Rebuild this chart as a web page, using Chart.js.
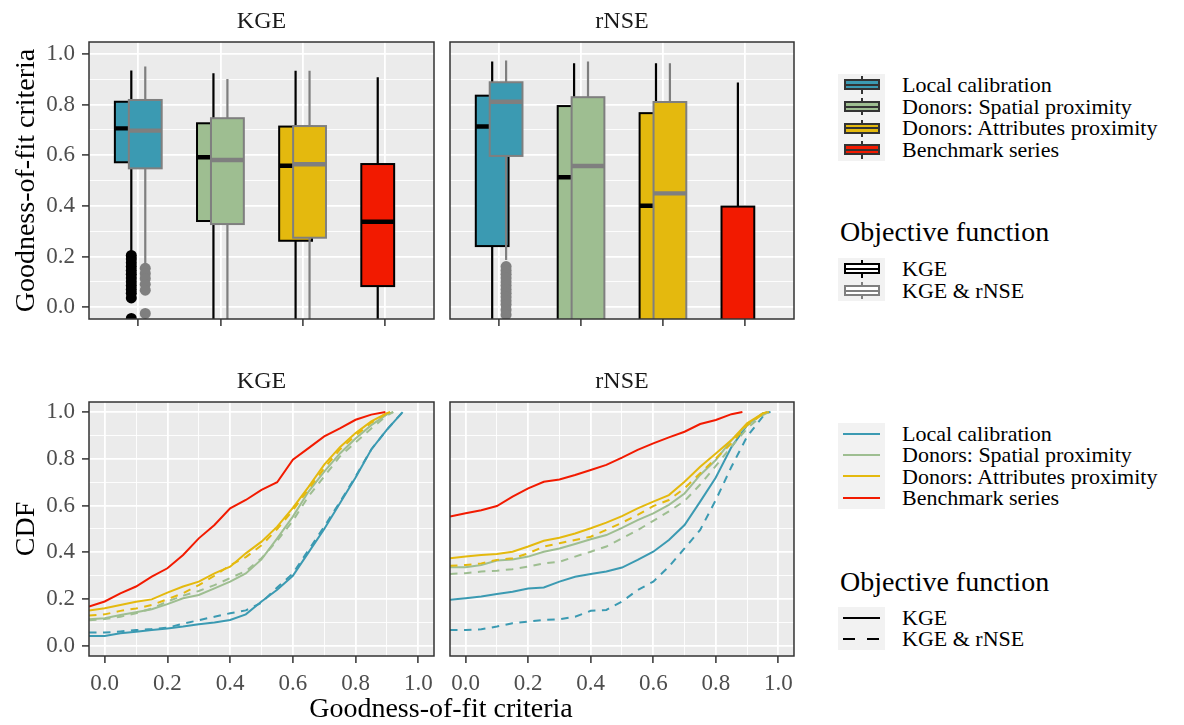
<!DOCTYPE html>
<html>
<head>
<meta charset="utf-8">
<script src="https://cdn.jsdelivr.net/npm/chart.js@4.4.1/dist/chart.umd.min.js"></script>
<style>
  body { margin: 0; background: #fff; }
  #page { position: relative; width: 1184px; height: 725px; overflow: hidden;
          font-family: 'Liberation Serif', 'Times New Roman', serif; color: #000; }
  canvas { position: absolute; }
  .legend { position: absolute; left: 838px; }
  .row { position: relative; }
  .key { position: absolute; left: 0; top: 0; width: 47px; height: 100%; background: #F2F2F2; }
  .lab { position: absolute; left: 64px; top: 0; font-size: 22px; white-space: nowrap; }
  .wh { position: absolute; left: 22.5px; width: 2px; top: 10%; bottom: 10%; }
  .bx { position: absolute; left: 5.5px; width: 36px; top: 25%; height: 50%; box-sizing: border-box; border: 2px solid; }
  .md { position: absolute; left: 5.5px; width: 36px; top: calc(50% - 1px); height: 2px; }
  .ln { position: absolute; left: 5px; width: 37px; top: calc(50% - 1px); height: 2px; }
  .ltitle { position: absolute; left: 840px; font-size: 28px; line-height: 32px; white-space: nowrap; }
  .xtitle { position: absolute; left: 241px; width: 400px; top: 692px; text-align: center;
            font-size: 28px; line-height: 32px; white-space: nowrap; }
</style>
</head>
<body>
<div id="page">
  <canvas id="boxKge" width="440" height="340" style="left:0;top:0"></canvas>
  <canvas id="boxRnse" width="360" height="340" style="left:440px;top:0"></canvas>
  <canvas id="cdfKge" width="440" height="345" style="left:0;top:355px"></canvas>
  <canvas id="cdfRnse" width="360" height="345" style="left:440px;top:355px"></canvas>
  <div class="xtitle">Goodness-of-fit criteria</div>
  <div id="legFill" class="legend" style="top:74px"></div>
  <div class="ltitle" style="top:216px">Objective function</div>
  <div id="legObjBox" class="legend" style="top:258px"></div>
  <div id="legColour" class="legend" style="top:423px"></div>
  <div class="ltitle" style="top:566px">Objective function</div>
  <div id="legObjLine" class="legend" style="top:607px"></div>
</div>
<script>
// ---- categories / series ----
const methods = ['Local calibration', 'Donors: Spatial proximity', 'Donors: Attributes proximity', 'Benchmark series'];
const methodColors = ['#3B9AB2', '#9EBE91', '#E4B90E', '#F21A00'];
const objectives = ['KGE', 'KGE & rNSE'];
const objectiveStroke = ['#000000', '#7F7F7F'];

// boxplot stats per method: [lower whisker, Q1, median, Q3, upper whisker]
const boxKgeByKge  = [[0.21, 0.572, 0.706, 0.811, 0.934], [-0.25, 0.340, 0.592, 0.726, 0.924], [-0.25, 0.262, 0.558, 0.713, 0.933], [-0.25, 0.083, 0.337, 0.565, 0.908]];
const boxKgeByBoth = [[0.165, 0.548, 0.697, 0.818, 0.950], [-0.25, 0.328, 0.581, 0.746, 0.901], [-0.25, 0.274, 0.564, 0.715, 0.933], null];
const boxRnseByKge  = [[-0.5, 0.241, 0.713, 0.835, 0.970], [-1.0, -0.30, 0.513, 0.794, 0.963], [-1.0, -0.40, 0.400, 0.766, 0.963], [-1.0, -0.90, -0.20, 0.397, 0.887]];
const boxRnseByBoth = [[0.186, 0.597, 0.811, 0.888, 0.974], [-1.0, -0.30, 0.557, 0.829, 0.970], [-1.0, -0.30, 0.449, 0.810, 0.963], null];

// outliers per method
const outKgeByKge  = [[0.204, 0.19, 0.175, 0.16, 0.145, 0.13, 0.115, 0.10, 0.085, 0.07, 0.055, 0.036, -0.045], [], [], []];
const outKgeByBoth = [[0.153, 0.133, 0.113, 0.09, 0.067, -0.025], [], [], []];
const outRnseByKge  = [[], [], [], []];
const outRnseByBoth = [[0.16, 0.145, 0.13, 0.115, 0.10, 0.085, 0.07, 0.055, 0.04, 0.025, 0.01, -0.01, -0.03], [], [], []];

// empirical CDF, read at these criteria values
const cdfGrid = [-0.05, 0, 0.05, 0.1, 0.15, 0.2, 0.25, 0.3, 0.35, 0.4, 0.45, 0.5, 0.55, 0.6, 0.65, 0.7, 0.75, 0.8, 0.85, 0.9, 0.95];
const cdfSeriesMethod = [0, 0, 1, 1, 2, 2, 3];
const cdfSeriesObjective = [0, 1, 0, 1, 0, 1, 0];

const cdfKge = [
  [0.043, 0.043, 0.054, 0.061, 0.068, 0.075, 0.083, 0.093, 0.100, 0.111, 0.135, 0.19, 0.24, 0.30, 0.40, 0.50, 0.61, 0.72, 0.84, 0.925, null],
  [0.057, 0.057, 0.062, 0.068, 0.072, 0.078, 0.095, 0.110, 0.125, 0.140, 0.152, 0.185, 0.25, 0.31, 0.41, 0.51, 0.615, 0.725, 0.84, 0.925, null],
  [0.114, 0.118, 0.132, 0.144, 0.157, 0.179, 0.204, 0.218, 0.246, 0.275, 0.31, 0.37, 0.46, 0.553, 0.66, 0.745, 0.823, 0.887, 0.944, 0.99, null],
  [0.110, 0.115, 0.125, 0.140, 0.160, 0.190, 0.215, 0.235, 0.26, 0.29, 0.32, 0.375, 0.45, 0.535, 0.64, 0.725, 0.81, 0.87, 0.93, 0.985, null],
  [0.151, 0.161, 0.175, 0.189, 0.199, 0.228, 0.254, 0.275, 0.31, 0.339, 0.396, 0.446, 0.51, 0.59, 0.68, 0.775, 0.85, 0.91, 0.96, 0.995, null],
  [0.130, 0.135, 0.150, 0.160, 0.175, 0.200, 0.225, 0.260, 0.30, 0.345, 0.38, 0.43, 0.50, 0.58, 0.67, 0.76, 0.84, 0.90, 0.955, 0.995, null],
  [0.168, 0.190, 0.225, 0.254, 0.296, 0.332, 0.389, 0.460, 0.517, 0.588, 0.624, 0.667, 0.70, 0.796, 0.846, 0.896, 0.93, 0.967, 0.989, null, null]
];
const cdfKgeEnd = [0.95, 0.95, 0.92, 0.92, 0.91, 0.91, 0.895];

const cdfRnse = [
  [0.197, 0.204, 0.211, 0.222, 0.232, 0.246, 0.250, 0.275, 0.296, 0.308, 0.318, 0.335, 0.368, 0.403, 0.453, 0.517, 0.617, 0.72, 0.85, 0.944, 0.994],
  [0.068, 0.068, 0.071, 0.083, 0.097, 0.104, 0.111, 0.114, 0.125, 0.150, 0.154, 0.190, 0.239, 0.275, 0.339, 0.417, 0.496, 0.624, 0.766, 0.895, 0.98],
  [0.336, 0.336, 0.346, 0.365, 0.370, 0.382, 0.403, 0.417, 0.436, 0.456, 0.474, 0.505, 0.538, 0.567, 0.603, 0.652, 0.731, 0.795, 0.88, 0.944, 0.994],
  [0.308, 0.311, 0.318, 0.322, 0.328, 0.339, 0.353, 0.360, 0.382, 0.403, 0.425, 0.460, 0.495, 0.535, 0.575, 0.62, 0.69, 0.77, 0.852, 0.93, 0.987],
  [0.375, 0.382, 0.389, 0.393, 0.403, 0.425, 0.450, 0.463, 0.481, 0.503, 0.527, 0.555, 0.588, 0.617, 0.645, 0.702, 0.766, 0.823, 0.88, 0.952, 0.994],
  [0.343, 0.346, 0.353, 0.368, 0.375, 0.396, 0.425, 0.439, 0.453, 0.467, 0.496, 0.527, 0.560, 0.598, 0.624, 0.674, 0.738, 0.802, 0.866, 0.944, 0.991],
  [0.553, 0.567, 0.580, 0.598, 0.638, 0.674, 0.702, 0.712, 0.731, 0.752, 0.774, 0.805, 0.838, 0.866, 0.892, 0.916, 0.949, 0.966, 0.991, null, null]
];
const cdfRnseEnd = [0.975, 0.97, 0.97, 0.97, 0.965, 0.97, 0.885];

// ---- axis ticks ----
const gofMajor = [0, 0.2, 0.4, 0.6, 0.8, 1.0];
const gofMajorLabels = ['0.0', '0.2', '0.4', '0.6', '0.8', '1.0'];
const gofMinor = [0.1, 0.3, 0.5, 0.7, 0.9];

// ---- look ----
Chart.defaults.font.family = "'Liberation Serif', 'Times New Roman', serif";
Chart.defaults.font.size = 23;
Chart.defaults.color = '#4D4D4D';
Chart.defaults.animation = false;

const BOX_WIDTH = 0.4;
const DODGE = [-0.085, 0.085];

function isMajor(v) { return gofMajor.some(m => Math.abs(m - v) < 1e-9); }

function gofAxis(min, max, showLabels, fitSize) {
  return {
    type: 'linear', min: min, max: max,
    afterBuildTicks: s => { s.ticks = gofMajor.concat(gofMinor).sort((a, b) => a - b).map(v => ({ value: v })); },
    afterFit: s => { if (s.isHorizontal()) s.height = fitSize; else s.width = fitSize; },
    ticks: {
      display: showLabels, autoSkip: false, maxRotation: 0, padding: 7, color: '#4D4D4D',
      callback: v => { const i = gofMajor.findIndex(m => Math.abs(m - v) < 1e-9); return i < 0 ? '' : gofMajorLabels[i]; }
    },
    grid: {
      color: '#FFFFFF',
      lineWidth: c => (c.tick && isMajor(c.tick.value)) ? 1.8 : 0.9,
      drawTicks: showLabels, tickLength: 7, tickWidth: 1.5,
      tickColor: c => (c.tick && isMajor(c.tick.value)) ? '#333333' : 'rgba(0,0,0,0)'
    },
    border: { display: false }
  };
}

function methodAxis() {
  return {
    type: 'linear', min: 0.4, max: 4.6,
    afterBuildTicks: s => { s.ticks = methods.map((m, i) => ({ value: i + 1 })); },
    afterFit: s => { s.height = 21; },
    ticks: { display: false },
    grid: { color: '#FFFFFF', lineWidth: 1.8, drawTicks: true, tickLength: 7, tickWidth: 1.5, tickColor: '#333333' },
    border: { display: false }
  };
}

const panelPlugin = {
  id: 'panel',
  beforeDraw(chart) {
    const { ctx, chartArea: a } = chart;
    ctx.save();
    ctx.fillStyle = '#EBEBEB';
    ctx.fillRect(a.left, a.top, a.right - a.left, a.bottom - a.top);
    ctx.restore();
  },
  afterDraw(chart) {
    const { ctx, chartArea: a } = chart;
    ctx.save();
    ctx.strokeStyle = '#333333';
    ctx.lineWidth = 1.5;
    ctx.strokeRect(a.left, a.top, a.right - a.left, a.bottom - a.top);
    ctx.restore();
  }
};

// boxes, whiskers and medians, placed with the chart's own scales
const boxplotPlugin = {
  id: 'boxplot',
  afterDatasetsDraw(chart, args, opts) {
    const { ctx, chartArea: a, scales: { x, y } } = chart;
    ctx.save();
    ctx.beginPath();
    ctx.rect(a.left, a.top, a.right - a.left, a.bottom - a.top);
    ctx.clip();
    opts.groups.forEach(g => {
      g.stats.forEach((s, i) => {
        if (!s) return;
        const [lo, q1, med, q3, hi] = s;
        const cx = x.getPixelForValue(i + 1 + g.offset);
        const hw = x.getPixelForValue(i + 1 + g.offset + BOX_WIDTH / 2) - cx;
        const top = y.getPixelForValue(q3), bot = y.getPixelForValue(q1);
        ctx.strokeStyle = g.stroke;
        ctx.lineWidth = 2.2;
        ctx.beginPath();
        ctx.moveTo(cx, y.getPixelForValue(hi)); ctx.lineTo(cx, top);
        ctx.moveTo(cx, bot); ctx.lineTo(cx, y.getPixelForValue(lo));
        ctx.stroke();
        ctx.fillStyle = methodColors[i];
        ctx.fillRect(cx - hw, top, 2 * hw, bot - top);
        ctx.lineWidth = 2;
        ctx.strokeRect(cx - hw, top, 2 * hw, bot - top);
        ctx.lineWidth = 4.4;
        ctx.beginPath();
        ctx.moveTo(cx - hw, y.getPixelForValue(med)); ctx.lineTo(cx + hw, y.getPixelForValue(med));
        ctx.stroke();
      });
    });
    ctx.restore();
  }
};

function stripTitle(text, padTop) {
  return { display: true, text: text, fullSize: false, color: '#1A1A1A',
           font: { size: 24, weight: 'normal' }, padding: { top: padTop, bottom: 6 } };
}

function outlierData(out, offset) {
  const pts = [];
  out.forEach((vals, i) => vals.forEach(v => pts.push({ x: i + 1 + offset, y: v })));
  return pts;
}

function makeBoxChart(id, strip, byKge, byBoth, outKge, outBoth, isLeft) {
  const yAxis = gofAxis(-0.047, 1.047, isLeft, isLeft ? 89 : 10);
  if (isLeft) yAxis.title = { display: true, text: 'Goodness-of-fit criteria', color: '#000000',
                              font: { size: 28 }, padding: { top: 10, bottom: 0 } };
  new Chart(document.getElementById(id), {
    type: 'scatter',
    data: {
      datasets: [
        { label: objectives[0], data: outlierData(outKge, DODGE[0]), backgroundColor: objectiveStroke[0],
          borderWidth: 0, pointRadius: 5.5, clip: 0 },
        { label: objectives[1], data: outlierData(outBoth, DODGE[1]), backgroundColor: objectiveStroke[1],
          borderWidth: 0, pointRadius: 5.5, clip: 0 }
      ]
    },
    options: {
      responsive: false,
      layout: { padding: { left: 0, right: 6, top: 0, bottom: 0 } },
      plugins: {
        legend: { display: false }, tooltip: { enabled: false },
        title: stripTitle(strip, 7.2),
        boxplot: { groups: [
          { stats: byKge, stroke: objectiveStroke[0], offset: DODGE[0] },
          { stats: byBoth, stroke: objectiveStroke[1], offset: DODGE[1] }
        ] }
      },
      scales: { x: methodAxis(), y: yAxis }
    },
    plugins: [panelPlugin, boxplotPlugin]
  });
}

function cdfPoints(vals, end) {
  const pts = [];
  cdfGrid.forEach((x, i) => { if (vals[i] !== null && x < end) pts.push({ x: x, y: vals[i] }); });
  pts.push({ x: end, y: 1 });
  return pts;
}

function makeCdfChart(id, strip, series, ends, isLeft) {
  const yAxis = gofAxis(-0.043, 1.043, isLeft, isLeft ? 89 : 10);
  if (isLeft) yAxis.title = { display: true, text: 'CDF', color: '#000000',
                              font: { size: 28 }, padding: { top: 10, bottom: 0 } };
  const datasets = series.map((vals, k) => ({
    label: methods[cdfSeriesMethod[k]] + ' / ' + objectives[cdfSeriesObjective[k]],
    data: cdfPoints(vals, ends[k]),
    showLine: true, pointRadius: 0, borderWidth: 2, tension: 0, clip: 0,
    borderColor: methodColors[cdfSeriesMethod[k]],
    borderDash: cdfSeriesObjective[k] === 1 ? [7.5, 6.5] : [],
    order: series.length - k
  }));
  new Chart(document.getElementById(id), {
    type: 'scatter',
    data: { datasets: datasets },
    options: {
      responsive: false,
      layout: { padding: { left: 0, right: 6, top: 0, bottom: 0 } },
      plugins: { legend: { display: false }, tooltip: { enabled: false }, title: stripTitle(strip, 12.2) },
      scales: { x: gofAxis(-0.05, 1.05, true, 44), y: yAxis }
    },
    plugins: [panelPlugin]
  });
}

makeBoxChart('boxKge', 'KGE', boxKgeByKge, boxKgeByBoth, outKgeByKge, outKgeByBoth, true);
makeBoxChart('boxRnse', 'rNSE', boxRnseByKge, boxRnseByBoth, outRnseByKge, outRnseByBoth, false);
makeCdfChart('cdfKge', 'KGE', cdfKge, cdfKgeEnd, true);
makeCdfChart('cdfRnse', 'rNSE', cdfRnse, cdfRnseEnd, false);

// ---- legends ----
function row(h, keyHtml, text) {
  return '<div class="row" style="height:' + h + 'px"><div class="key">' + keyHtml +
         '</div><div class="lab" style="line-height:' + h + 'px">' + text + '</div></div>';
}
function boxKey(fill, stroke) {
  return '<div class="wh" style="background:' + stroke + '"></div>' +
         '<div class="bx" style="background:' + fill + ';border-color:' + stroke + '"></div>' +
         '<div class="md" style="background:' + stroke + '"></div>';
}
function lineKey(colour, dashed) {
  const bg = dashed ? 'repeating-linear-gradient(90deg,' + colour + ' 0 12px,transparent 12px 24px)' : colour;
  return '<div class="ln" style="background:' + bg + '"></div>';
}
document.getElementById('legFill').innerHTML =
  methods.map((m, i) => row(21.7, boxKey(methodColors[i], '#333333'), m)).join('');
document.getElementById('legObjBox').innerHTML =
  objectives.map((o, i) => row(21.7, boxKey('#FFFFFF', objectiveStroke[i]), o)).join('');
document.getElementById('legColour').innerHTML =
  methods.map((m, i) => row(21.4, lineKey(methodColors[i], false), m)).join('');
document.getElementById('legObjLine').innerHTML =
  objectives.map((o, i) => row(21.4, lineKey('#000000', i === 1), o)).join('');
</script>
</body>
</html>
